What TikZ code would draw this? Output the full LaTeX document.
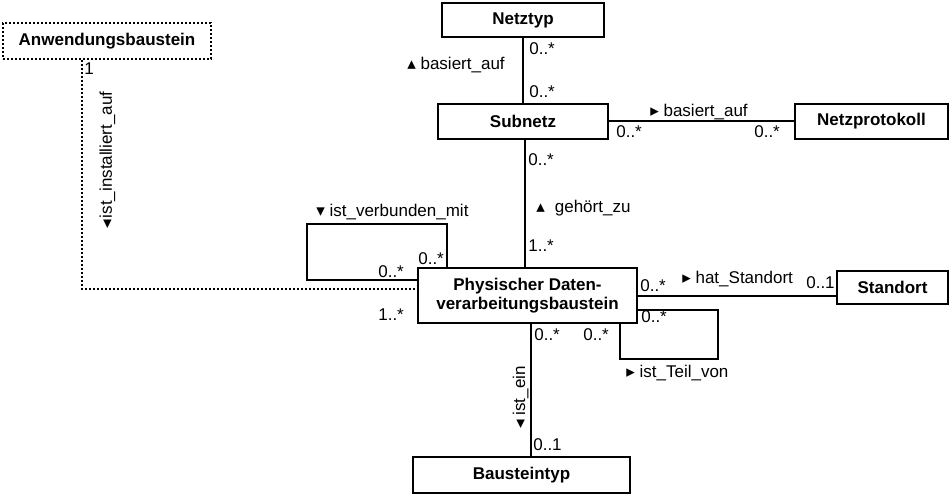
\documentclass[tikz,border=0pt]{standalone}
\usepackage{fontspec}
\setmainfont{Liberation Sans}
\newfontfamily\symf{DejaVu Sans}
\usetikzlibrary{calc}

\newlength{\px}
\setlength{\px}{0.6pt}
\newcommand{\trup}{{\symf ▴}}
\newcommand{\trrt}{{\symf ▸}}
\newcommand{\trdn}{{\symf ▾}}
\newcommand{\trlt}{{\symf ◂}}

\begin{document}
\begin{tikzpicture}[
    x=0.6pt, y=-0.6pt,
    klasse/.style={draw, line width=1.2pt, inner sep=0pt, align=center,
                   font=\fontsize{10.2}{11.4}\selectfont\bfseries},
    assoc/.style={line width=1.2pt},
    abh/.style={line width=1.2pt, dash pattern=on 1.3pt off 1.1pt},
    lbl/.style={inner sep=0pt, font=\fontsize{10.2}{12}\selectfont}
]
\useasboundingbox (0,0) rectangle (950,496);

% Klassen
\node[klasse, minimum width=162\px, minimum height=34\px] (netztyp) at (523,20) {Netztyp};
\node[klasse, minimum width=170\px, minimum height=35\px] (subnetz) at (523,121.5) {Subnetz};
\node[klasse, minimum width=153\px, minimum height=35\px] (netzprot) at (871.5,121.5) {Netzprotokoll};
\node[klasse, minimum width=219\px, minimum height=55\px] (pdv) at (527.5,295.5) {Physischer Daten-\\verarbeitungsbaustein};
\node[klasse, minimum width=111\px, minimum height=33\px] (standort) at (892.5,287.5) {Standort};
\node[klasse, minimum width=217\px, minimum height=36\px] (baustyp) at (521.5,475) {Bausteintyp};
\node[klasse, abh, minimum width=208\px, minimum height=36\px] (anw) at (107,41) {Anwendungsbaustein};

% Assoziationen
\draw[assoc] (netztyp.south) -- (subnetz.north);
\draw[assoc] (subnetz.east) -- (netzprot.west);
\draw[assoc] ($(subnetz.south)+(2,0)$) -- ($(subnetz.south |- pdv.north)+(2,0)$);
\draw[assoc] (pdv.east) -- (pdv.east -| standort.west);
\coordinate (einoben) at ($(pdv.south)+(3.5,0)$);
\draw[assoc] (einoben) -- (einoben |- baustyp.north);

% Selbstassoziationen
\draw[assoc] ($(pdv.north west)+(30,0)$) -- ++(0,-43)
    -| ($(pdv.north west)+(-110,13)$) -- ($(pdv.north west)+(0,13)$);
\draw[assoc] ($(pdv.south east)+(-18,0)$) -- ++(0,35)
    -| ($(pdv.south east)+(80,-14)$) -- ($(pdv.south east)+(0,-14)$);

% Abhaengigkeit
\draw[abh] ($(anw.south)+(-25,0)$) |- ($(pdv.west)+(0,-6.5)$);

% Rollen und Namen
\node[lbl, anchor=base west] (m1) at (529,55) {0..*};
\node[lbl, anchor=base west] (m2) at (529,98) {0..*};
\node[lbl, anchor=base west] (n1) at (407,70) {\trup\ basiert\_auf};
\node[lbl, anchor=base west] (m3) at (616,138) {0..*};
\node[lbl, anchor=base west] (m4) at (754,138) {0..*};
\node[lbl, anchor=base west] (n2) at (650,117) {\trrt\ basiert\_auf};
\node[lbl, anchor=base west] (m5) at (528,166) {0..*};
\node[lbl, anchor=base west] (n3) at (536,213) {\trup\hspace{10\px}gehört\_zu};
\node[lbl, anchor=base west] (m6) at (528,251) {1..*};
\node[lbl, anchor=base west] (n4) at (316,216) {\trdn\ ist\_verbunden\_mit};
\node[lbl, anchor=base west] (m7) at (418,264) {0..*};
\node[lbl, anchor=base west] (m8) at (378,277) {0..*};
\node[lbl, anchor=base west] (m9) at (378,320) {1..*};
\node[lbl, anchor=base west] (m10) at (534,340) {0..*};
\node[lbl, anchor=base west] (m11) at (583,340) {0..*};
\node[lbl, anchor=base west] (m12) at (640,292) {0..*};
\node[lbl, anchor=base west] (m13) at (641,323) {0..*};
\node[lbl, anchor=base west] (n5) at (682,284) {\trrt\ hat\_Standort};
\node[lbl, anchor=base west] (m14) at (806,289) {0..1};
\node[lbl, anchor=base west] (n6) at (626,377) {\trrt\ ist\_Teil\_von};
\node[lbl, anchor=base west, rotate=90] (n7) at (525,429) {\trlt\ ist\_ein};
\node[lbl, anchor=base west] (m15) at (533,450) {0..1};
\node[lbl, anchor=base west, rotate=90] (n8) at (112,229) {\trlt\hspace{2\px}ist\_installiert\_auf};
\node[lbl, anchor=base west] (m16) at (84,75) {1};

\end{tikzpicture}
\end{document}
